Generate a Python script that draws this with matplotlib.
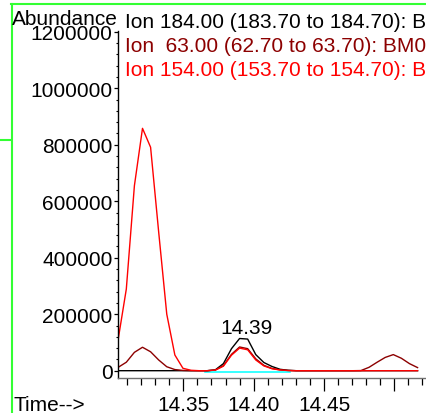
import matplotlib
matplotlib.use("Agg")
import matplotlib.pyplot as plt
from matplotlib.lines import Line2D
from matplotlib.ticker import MultipleLocator, FixedLocator

plt.rcParams['font.family'] = ['Liberation Sans', 'DejaVu Sans']
plt.rcParams['font.size'] = 15

# scan times (min)
time = [14.30375, 14.30950, 14.31525, 14.32100, 14.32675, 14.33250, 14.33825,
        14.34400, 14.34975, 14.35550, 14.36125, 14.36700, 14.37275, 14.37850,
        14.38425, 14.39000, 14.39575, 14.40150, 14.40725, 14.41300, 14.41875,
        14.42450, 14.43025, 14.43600, 14.44175, 14.44750, 14.45325, 14.45900,
        14.46475, 14.47050, 14.47625, 14.48200, 14.48775, 14.49350, 14.49925,
        14.50500, 14.51075, 14.51650]

# extracted ion abundances
ion184 = [0, 0, 0, 0, 0, 0, 0, 0, 0, 0, 0, 0,
          3000, 25000, 78000, 114000, 112000, 57000, 29000, 15000, 5000, 1500,
          0, 0, 0, 0, 0, 0, 0, 0, 0, 0, 0, 0, 0, 0, 0, 0]
ion63 = [12000, 30000, 65000, 83000, 67000, 38000, 14000, 4000, 1000, 0, 0, 0,
         2500, 18000, 58000, 84000, 78000, 42000, 19000, 8000, 3000, 800, 0,
         0, 0, 0, 0, 0, 0, 0,
         500, 12000, 30000, 47000, 57000, 44000, 25000, 11000]
ion154 = [112000, 289000, 655000, 858000, 791000, 491000, 200000, 55600, 8500, 1500, 0, 0,
          2000, 16000, 55000, 80000, 74000, 38000, 17000, 7000, 2500, 500, 0,
          0, 0, 0, 0, 0, 0, 0, 0, 0, 0, 0, 0, 0, 0, 0]

ion_labels = ["Ion 184.00 (183.70 to 184.70): B",
              "Ion  63.00 (62.70 to 63.70): BM0",
              "Ion 154.00 (153.70 to 154.70): B"]
ion_colors = ["#000000", "#8c0000", "#ff0000"]

# integration baseline under the 14.39 peak
base_t = [14.3655, 14.4259]
base_v = [-3000, -3000]

peak_rt = 14.39
peak_abund = 114000

y_ticks = [0, 200000, 400000, 600000, 800000, 1000000, 1200000]
x_ticks = [14.35, 14.40, 14.45, 14.50]
x_ticklabels = ["14.35", "14.40", "14.45", ""]

W, H = 426, 414
fig = plt.figure(figsize=(W / 100, H / 100), dpi=100)
ax = fig.add_axes([118 / W, 1 - 379 / H, 308 / W, (379 - 32.5) / H])

ax.plot(base_t, base_v, color="#00ffff", lw=1.1)
for vals, col in zip([ion184, ion63, ion154], ion_colors):
    ax.plot(time, vals, color=col, lw=1.0)

ax.annotate(f"{peak_rt:.2f}", xy=(peak_rt, peak_abund), xytext=(7, 5),
            textcoords="offset pixels", ha="center", va="baseline")

ax.set_xlim(14.30359, 14.52249)
ax.set_ylim(-25840, 1200800)

ax.xaxis.set_major_locator(FixedLocator(x_ticks))
ax.set_xticklabels(x_ticklabels)
ax.xaxis.set_minor_locator(MultipleLocator(0.01))
ax.yaxis.set_major_locator(FixedLocator(y_ticks))
ax.set_yticklabels([str(v) for v in y_ticks])
ax.yaxis.set_minor_locator(MultipleLocator(40000))

ax.tick_params(axis="x", which="major", direction="out", length=9.5, width=0.9, pad=3)
ax.tick_params(axis="x", which="minor", direction="out", length=5, width=0.9)
ax.tick_params(axis="y", which="major", direction="out", length=3, width=0.9, pad=0.8)
ax.tick_params(axis="y", which="minor", direction="out", length=1.5, width=0.8)

for s in ["top", "right"]:
    ax.spines[s].set_visible(False)
ax.spines["left"].set_linewidth(1.0)
ax.spines["bottom"].set_linewidth(1.0)
ax.spines["bottom"].set_color("#707070")

# header and trace labels
fig.text(12 / W, 1 - 25 / H, "Abundance", ha="left", va="baseline")
for k, (lab, col) in enumerate(zip(ion_labels, ion_colors)):
    fig.text(125 / W, 1 - (28 + 24 * k) / H, lab, color=col, ha="left", va="baseline")
fig.text(13 / W, 1 - 411 / H, "Time-->", ha="left", va="baseline")

# window frame
green = "#33ff33"
fig.add_artist(Line2D([11.5 / W, 11.5 / W], [1 - 5 / H, 0], color=green, lw=1.5,
                      transform=fig.transFigure))
fig.add_artist(Line2D([11 / W, 1], [1 - 5 / H, 1 - 5 / H], color=green, lw=1.5,
                      transform=fig.transFigure))
fig.add_artist(Line2D([0, 11 / W], [1 - 141 / H, 1 - 141 / H], color=green, lw=1.5,
                      transform=fig.transFigure))

fig.savefig("out.png", dpi=100)
